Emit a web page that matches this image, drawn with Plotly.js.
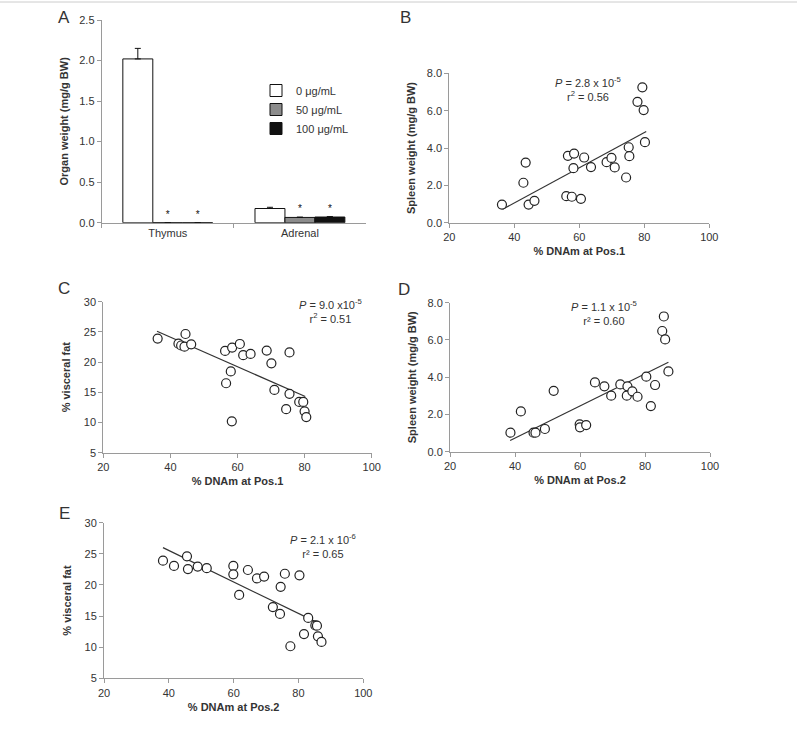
<!DOCTYPE html>
<html>
<head>
<meta charset="utf-8">
<script src="https://cdn.plot.ly/plotly-3.0.1.min.js"></script>
<style>html,body{margin:0;padding:0;background:#fff;}#chart{width:800px;height:730px;}</style>
</head>
<body>
<div id="chart"></div>
<script>
// ---------- Panel A data ----------
const organs = ['Thymus', 'Adrenal'];
const dose0 = [2.02, 0.175];
const dose0Err = [0.13, 0.015];
const dose50 = [0, 0.065];
const dose50Err = [0, 0.004];
const dose100 = [0, 0.07];
const dose100Err = [0, 0.005];
const sigMarks = ['*', '*'];
const doseNames = ['0 μg/mL', '50 μg/mL', '100 μg/mL'];

// ---------- Panel B: % DNAm Pos.1 vs spleen weight ----------
const bPos1 = [36.2, 42.8, 43.5, 44.4, 46.2, 56.0, 57.7, 60.5, 56.5, 58.4, 58.2, 61.5, 63.6, 68.4, 69.9, 70.9, 74.4, 75.2, 75.4, 77.9, 79.4, 79.8, 80.2];
const bSpleen = [0.97, 2.14, 3.22, 0.97, 1.17, 1.42, 1.39, 1.28, 3.58, 3.70, 2.92, 3.49, 2.98, 3.24, 3.47, 2.96, 2.42, 4.04, 3.56, 6.47, 7.25, 6.03, 4.31];
const bFitX = [36.4, 80.6];
const bFitY = [0.72, 4.88];

// ---------- Panel C: % DNAm Pos.1 vs % visceral fat ----------
const cPos1 = [36.2, 42.4, 43.2, 44.2, 44.5, 46.2, 56.3, 58.4, 60.7, 61.7, 63.9, 68.7, 70.1, 75.5, 58.0, 56.6, 58.3, 71.0, 75.5, 74.5, 78.4, 79.6, 80.0, 80.5];
const cFat = [23.9, 23.05, 22.75, 22.55, 24.65, 22.95, 21.85, 22.4, 23.0, 21.15, 21.35, 21.9, 19.8, 21.6, 18.45, 16.5, 10.2, 15.4, 14.75, 12.2, 13.4, 13.4, 11.85, 10.9];
const cFitX = [36.0, 80.2];
const cFitY = [25.1, 14.3];

// ---------- Panel D: % DNAm Pos.2 vs spleen weight ----------
const dPos2 = [38.6, 41.8, 45.7, 46.3, 49.2, 51.9, 59.9, 60.0, 61.9, 64.6, 67.5, 69.6, 72.4, 74.4, 74.6, 76.1, 77.7, 80.4, 81.8, 83.1, 85.3, 85.8, 86.2, 87.2];
const dSpleen = [1.02, 2.16, 1.02, 1.02, 1.22, 3.27, 1.47, 1.31, 1.43, 3.72, 3.51, 3.01, 3.61, 3.01, 3.51, 3.24, 2.95, 4.03, 2.45, 3.58, 6.48, 7.26, 6.03, 4.31];
const dFitX = [38.5, 87.2];
const dFitY = [0.6, 4.8];

// ---------- Panel E: % DNAm Pos.2 vs % visceral fat ----------
const ePos2 = [38.2, 41.6, 45.6, 45.9, 48.9, 51.7, 59.9, 59.9, 61.7, 64.4, 67.2, 69.4, 74.5, 75.8, 80.3, 72.1, 74.3, 77.5, 81.7, 83.0, 85.2, 85.7, 86.0, 87.1];
const eFat = [23.9, 23.05, 24.6, 22.55, 22.95, 22.7, 23.05, 21.7, 18.4, 22.4, 21.05, 21.35, 19.7, 21.8, 21.55, 16.45, 15.35, 10.15, 12.1, 14.7, 13.5, 13.45, 11.75, 10.85];
const eFitX = [38.2, 86.8];
const eFitY = [26.0, 13.7];

// ---------- helpers (layout only) ----------
const W = 800, H = 730;
const px = v => v / W;
const py = v => 1 - v / H;
const FONT = 'Liberation Sans, Arial, Helvetica, sans-serif';
const AX = '#9a9a9a';
const TXT = '#333333';

function barTrace(y, err, name, color, text) {
  return {
    type: 'bar', x: organs, y: y, name: name,
    xaxis: 'x', yaxis: 'y',
    marker: {color: color, line: {color: '#111', width: 1}},
    error_y: {type: 'data', array: err, arrayminus: err.map(() => 0), symmetric: false,
              color: '#111', thickness: 1, width: 3},
    text: text, textposition: text ? 'outside' : 'none',
    textfont: {size: 10, color: '#111', family: FONT},
    cliponaxis: false,
    hoverinfo: 'x+y'
  };
}
function scat(x, y, xa, ya) {
  return {type: 'scatter', mode: 'markers', x: x, y: y, xaxis: xa, yaxis: ya, showlegend: false,
          marker: {symbol: 'circle', size: 9, color: '#fff', line: {color: '#222', width: 1.2}}, cliponaxis: false};
}
function fit(x, y, xa, ya) {
  return {type: 'scatter', mode: 'lines', x: x, y: y, xaxis: xa, yaxis: ya, showlegend: false,
          line: {color: '#333', width: 1.2}, hoverinfo: 'skip'};
}

const data = [
  barTrace(dose0, dose0Err, doseNames[0], '#ffffff', null),
  barTrace(dose50, dose50Err, doseNames[1], '#8c8c8c', sigMarks),
  barTrace(dose100, dose100Err, doseNames[2], '#111111', sigMarks),
  fit(bFitX, bFitY, 'x2', 'y2'), scat(bPos1, bSpleen, 'x2', 'y2'),
  fit(cFitX, cFitY, 'x3', 'y3'), scat(cPos1, cFat, 'x3', 'y3'),
  fit(dFitX, dFitY, 'x4', 'y4'), scat(dPos2, dSpleen, 'x4', 'y4'),
  fit(eFitX, eFitY, 'x5', 'y5'), scat(ePos2, eFat, 'x5', 'y5')
];

function axBase(extra) {
  return Object.assign({
    showline: true, linecolor: AX, linewidth: 1, ticks: 'outside', ticklen: 4, tickcolor: AX,
    showgrid: false, zeroline: false, tickfont: {size: 11, color: TXT, family: FONT},
    automargin: false, fixedrange: true
  }, extra);
}
function ttl(text, standoff) {
  return {text: '<b>' + text + '</b>', font: {size: 11, color: TXT, family: FONT}, standoff: standoff};
}

const layout = {
  width: W, height: H,
  margin: {l: 0, r: 0, t: 0, b: 0},
  paper_bgcolor: '#fff', plot_bgcolor: 'rgba(0,0,0,0)',
  font: {family: FONT, color: TXT},
  barmode: 'group', bargap: 0.32, bargroupgap: 0,
  showlegend: true,
  legend: {x: px(256), y: py(76), xanchor: 'left', yanchor: 'top', bgcolor: 'rgba(0,0,0,0)',
           font: {size: 11, color: TXT, family: FONT}, itemwidth: 30, tracegroupgap: 0},
  // Panel A
  xaxis: axBase({domain: [px(101.7), px(366)], anchor: 'y', type: 'category', tickson: 'boundaries'}),
  yaxis: axBase({domain: [py(222.7), py(20)], anchor: 'x', range: [0, 2.5], dtick: 0.5, tickformat: '.1f',
                 title: ttl('Organ weight (mg/g BW)', 8)}),
  // Panel B
  xaxis2: axBase({domain: [px(449.3), px(709.3)], anchor: 'y2', range: [20, 100], dtick: 20,
                  title: ttl('% DNAm at Pos.1', 5)}),
  yaxis2: axBase({domain: [py(222.7), py(73.3)], anchor: 'x2', range: [0, 8], dtick: 2, tickformat: '.1f',
                  title: ttl('Spleen weight (mg/g BW)', 8)}),
  // Panel C
  xaxis3: axBase({domain: [px(103.3), px(371.7)], anchor: 'y3', range: [20, 100], dtick: 20,
                  title: ttl('% DNAm at Pos.1', 5)}),
  yaxis3: axBase({domain: [py(452.7), py(301.7)], anchor: 'x3', range: [5, 30], dtick: 5,
                  title: ttl('% visceral fat', 10)}),
  // Panel D
  xaxis4: axBase({domain: [px(450), px(710)], anchor: 'y4', range: [20, 100], dtick: 20,
                  title: ttl('% DNAm at Pos.2', 5)}),
  yaxis4: axBase({domain: [py(451.7), py(302.7)], anchor: 'x4', range: [0, 8], dtick: 2, tickformat: '.1f',
                  title: ttl('Spleen weight (mg/g BW)', 8)}),
  // Panel E
  xaxis5: axBase({domain: [px(104), px(363.3)], anchor: 'y5', range: [20, 100], dtick: 20,
                  title: ttl('% DNAm at Pos.2', 5)}),
  yaxis5: axBase({domain: [py(678.3), py(522.7)], anchor: 'x5', range: [5, 30], dtick: 5,
                  title: ttl('% visceral fat', 10)}),
  shapes: [
    {type: 'line', xref: 'paper', yref: 'paper', x0: 0, x1: px(797), y0: py(2), y1: py(2),
     line: {color: '#cccccc', width: 1}}
  ],
  annotations: [
    {text: 'A', x: px(64), y: py(17.5)},
    {text: 'B', x: px(406), y: py(17.5)},
    {text: 'C', x: px(63.5), y: py(288.5)},
    {text: 'D', x: px(404), y: py(289)},
    {text: 'E', x: px(64), y: py(513)}
  ].map(a => Object.assign({xref: 'paper', yref: 'paper', xanchor: 'center', yanchor: 'middle', showarrow: false,
                            font: {size: 17, color: TXT, family: FONT}}, a)).concat([
    {text: '<i>P</i> = 2.8 x 10<sup>-5</sup><br>r<sup>2</sup> = 0.56', x: px(588), y: py(89)},
    {text: '<i>P</i> = 9.0 x10<sup>-5</sup><br>r<sup>2</sup> = 0.51', x: px(330), y: py(311)},
    {text: '<i>P</i> = 1.1 x 10<sup>-5</sup><br>r² = 0.60', x: px(604), y: py(313)},
    {text: '<i>P</i> = 2.1 x 10<sup>-6</sup><br>r² = 0.65', x: px(323), y: py(546)}
  ].map(a => Object.assign({xref: 'paper', yref: 'paper', xanchor: 'center', yanchor: 'middle', showarrow: false,
                            align: 'center', font: {size: 11, color: TXT, family: FONT}}, a)))
};

Plotly.newPlot('chart', data, layout, {staticPlot: true, displayModeBar: false});
</script>
</body>
</html>
